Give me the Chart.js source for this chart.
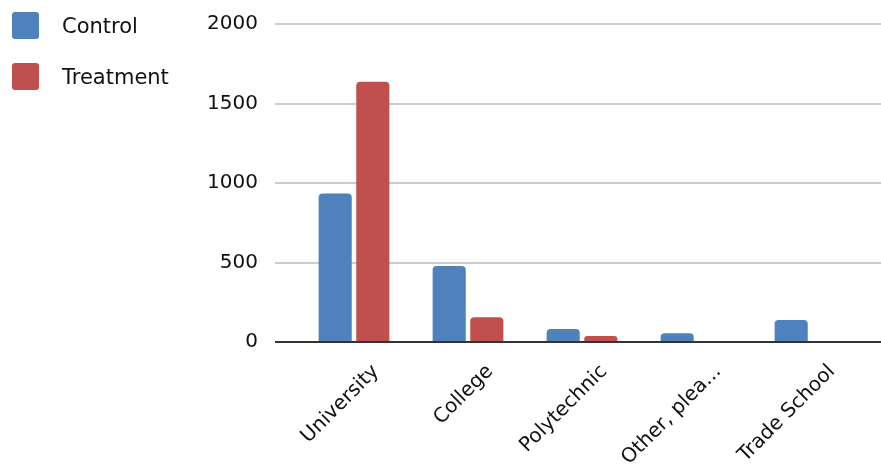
<!DOCTYPE html>
<html>
<head>
<meta charset="utf-8">
<script src="https://cdn.jsdelivr.net/npm/chart.js@4/dist/chart.umd.min.js"></script>
<style>
  html, body { margin: 0; padding: 0; background: #fff; }
  #wrap { position: relative; width: 881px; height: 468px; }
  #legend { position: absolute; left: 12px; top: 12px; font-family: "DejaVu Sans", sans-serif; font-size: 21px; color: #111; }
  .item { display: flex; align-items: center; height: 27px; margin-bottom: 24px; }
  .sw { width: 27px; height: 27px; border-radius: 3px; margin-right: 23px; }
  canvas { position: absolute; left: 0; top: 0; }
</style>
</head>
<body>
<div id="wrap">
  <canvas id="chart" width="881" height="468"></canvas>
  <div id="legend"></div>
</div>
<script>
const categories = ["University", "College", "Polytechnic", "Other, plea...", "Trade School"];
const controlValues = [934, 478, 82, 55, 138];
const treatmentValues = [1637, 155, 38, null, null];
const seriesNames = ["Control", "Treatment"];
const seriesColors = ["#4f81bd", "#c0504d"];
const yTicks = [0, 500, 1000, 1500, 2000];

// HTML legend
const legendEl = document.getElementById('legend');
seriesNames.forEach((name, i) => {
  const item = document.createElement('div');
  item.className = 'item';
  const sw = document.createElement('div');
  sw.className = 'sw';
  sw.style.background = seriesColors[i];
  const label = document.createElement('span');
  label.textContent = name;
  item.appendChild(sw);
  item.appendChild(label);
  legendEl.appendChild(item);
});

const GRID_LEFT = 275;

// Horizontal gridlines spanning the full plot width, and a dark baseline at zero
const gridPlugin = {
  id: 'gridLines',
  beforeDatasetsDraw(chart) {
    const ctx = chart.ctx;
    const y = chart.scales.y;
    ctx.save();
    ctx.strokeStyle = '#cccccc';
    ctx.lineWidth = 2;
    yTicks.forEach(v => {
      if (v === 0) return;
      const py = Math.round(y.getPixelForValue(v));
      ctx.beginPath();
      ctx.moveTo(GRID_LEFT, py);
      ctx.lineTo(chart.width, py);
      ctx.stroke();
    });
    ctx.restore();
  },
  afterDatasetsDraw(chart) {
    const ctx = chart.ctx;
    const y = chart.scales.y;
    const py = Math.round(y.getPixelForValue(0));
    ctx.save();
    ctx.strokeStyle = '#333333';
    ctx.lineWidth = 2;
    ctx.beginPath();
    ctx.moveTo(GRID_LEFT, py);
    ctx.lineTo(chart.width, py);
    ctx.stroke();
    ctx.restore();
  }
};

const font = { family: '"DejaVu Sans", sans-serif', size: 20 };

new Chart(document.getElementById('chart'), {
  type: 'bar',
  data: {
    labels: categories,
    datasets: [
      { label: seriesNames[0], data: controlValues, backgroundColor: seriesColors[0], borderRadius: { topLeft: 4, topRight: 4 }, borderSkipped: 'bottom' },
      { label: seriesNames[1], data: treatmentValues, backgroundColor: seriesColors[1], borderRadius: { topLeft: 4, topRight: 4 }, borderSkipped: 'bottom' }
    ]
  },
  options: {
    responsive: false,
    animation: false,
    layout: { padding: { left: 0, right: 14, top: 24, bottom: 0 } },
    datasets: { bar: { categoryPercentage: 0.66, barPercentage: 0.88 } },
    plugins: { legend: { display: false }, tooltip: { enabled: false } },
    scales: {
      x: {
        afterFit(scale) { scale.height = 126; scale.paddingLeft = 0; scale.paddingRight = 0; },
        grid: { display: false, drawTicks: false },
        border: { display: false },
        ticks: { font, color: '#111', minRotation: 45, maxRotation: 45, autoSkip: false, padding: 18, labelOffset: 22 }
      },
      y: {
        min: 0, max: 2000,
        afterBuildTicks(scale) { scale.ticks = yTicks.map(v => ({ value: v })); },
        afterFit(scale) { scale.width = 297; scale.paddingTop = 0; scale.paddingBottom = 0; },
        grid: { display: false, drawTicks: false },
        border: { display: false },
        ticks: { font, color: '#111', padding: 39, callback: v => String(v) }
      }
    }
  },
  plugins: [gridPlugin]
});
</script>
</body>
</html>
